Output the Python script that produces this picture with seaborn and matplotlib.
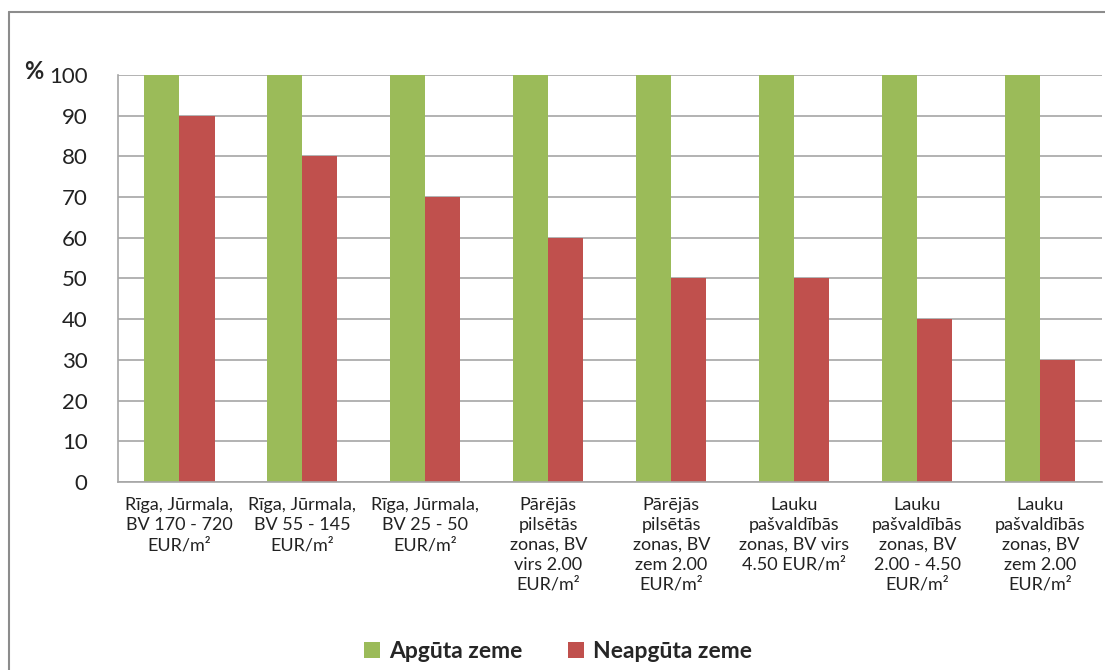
import pandas as pd
import seaborn as sns
import matplotlib.pyplot as plt
from matplotlib.lines import Line2D
from matplotlib.patches import Patch

categories = [
    "Rīga, Jūrmala,\nBV 170 - 720\nEUR/m²",
    "Rīga, Jūrmala,\nBV 55 - 145\nEUR/m²",
    "Rīga, Jūrmala,\nBV 25 - 50\nEUR/m²",
    "Pārējās\npilsētās\nzonas, BV\nvirs 2.00\nEUR/m²",
    "Pārējās\npilsētās\nzonas, BV\nzem 2.00\nEUR/m²",
    "Lauku\npašvaldībās\nzonas, BV virs\n4.50 EUR/m²",
    "Lauku\npašvaldībās\nzonas, BV\n2.00 - 4.50\nEUR/m²",
    "Lauku\npašvaldībās\nzonas, BV\nzem 2.00\nEUR/m²",
]
series_names = ["Apgūta zeme", "Neapgūta zeme"]
apguta = [100, 100, 100, 100, 100, 100, 100, 100]
neapguta = [90, 80, 70, 60, 50, 50, 40, 30]
y_ticks = [0, 10, 20, 30, 40, 50, 60, 70, 80, 90, 100]

colors = ["#9BBB59", "#C0504D"]

df = pd.DataFrame({
    "cat": categories * 2,
    "series": [series_names[0]] * len(categories) + [series_names[1]] * len(categories),
    "value": apguta + neapguta,
})

sns.set_style("white")
plt.rcParams['font.family'] = ['Lato', 'DejaVu Sans']

fig = plt.figure(figsize=(11.05, 6.70), dpi=100)
ax = fig.add_axes([0.1068, 0.2806, 0.8902, 0.6075])

sns.barplot(data=df, x="cat", y="value", hue="series", palette=colors,
            width=0.57, saturation=1, ax=ax, legend=False,
            edgecolor="none", linewidth=0)

ax.set_ylim(0, 100)
ax.set_xlim(-0.5, len(categories) - 0.5)
ax.set_yticks(y_ticks)
ax.yaxis.grid(True, color="#a6a6a6", linewidth=1.2)
ax.set_axisbelow(True)
ax.set_xlabel("")
ax.set_ylabel("")
for side in ["top", "right"]:
    ax.spines[side].set_visible(False)
for side in ["left", "bottom"]:
    ax.spines[side].set_color("#a6a6a6")
    ax.spines[side].set_linewidth(1.2)
ax.tick_params(axis="y", length=0, labelsize=16, pad=22, colors="#222222")
ax.tick_params(axis="x", length=0, labelsize=13, pad=11, colors="#222222")
for lbl in ax.get_xticklabels():
    lbl.set_linespacing(1.3)
    lbl.set_verticalalignment("top")

fig.text(0.022, 0.893, "%", fontsize=17, fontweight="bold", ha="left", va="center")

handles = [Patch(facecolor=c, edgecolor="none") for c in colors]
fig.legend(handles, series_names, loc="center", bbox_to_anchor=(0.505, 0.028),
           ncol=2, frameon=False, prop={"size": 16.5, "weight": "bold"},
           handlelength=0.7, handleheight=0.7, handletextpad=0.4, columnspacing=2.0)

# outer chart border (left and top visible)
fig.add_artist(Line2D([9 / 1105, 9 / 1105], [0, 1 - 12 / 670], transform=fig.transFigure,
                      color="#8c8c8c", linewidth=1.5))
fig.add_artist(Line2D([9 / 1105, 1], [1 - 12 / 670, 1 - 12 / 670], transform=fig.transFigure,
                      color="#8c8c8c", linewidth=1.5))

fig.savefig("out.png", dpi=100)
